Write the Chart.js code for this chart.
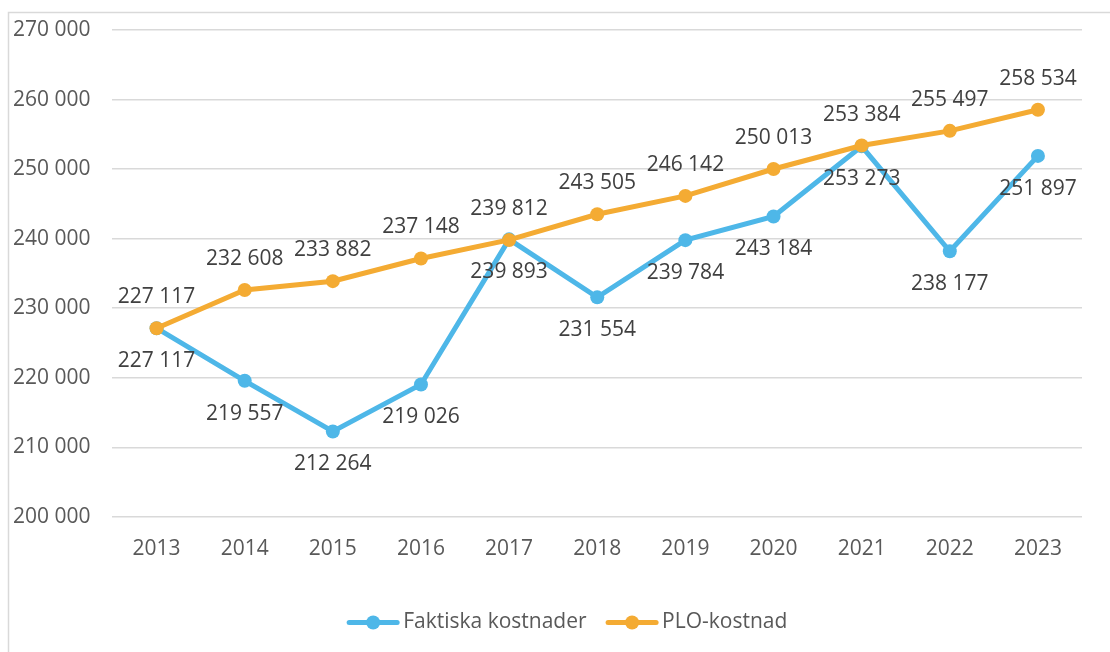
<!DOCTYPE html>
<html>
<head>
<meta charset="utf-8">
<script src="https://cdn.jsdelivr.net/npm/chart.js@4/dist/chart.umd.min.js"></script>
<style>
  body { margin: 0; background: #fff; }
  canvas { display: block; }
</style>
</head>
<body>
<canvas id="chart" width="1110" height="652"></canvas>
<script>
const years = ["2013", "2014", "2015", "2016", "2017", "2018", "2019", "2020", "2021", "2022", "2023"];
const faktiskaKostnader = [227117, 219557, 212264, 219026, 239893, 231554, 239784, 243184, 253273, 238177, 251897];
const ploKostnad = [227117, 232608, 233882, 237148, 239812, 243505, 246142, 250013, 253384, 255497, 258534];
const yTicks = [200000, 210000, 220000, 230000, 240000, 250000, 260000, 270000];

const blue = "#4EB7E8";
const orange = "#F4AB33";
const textColor = "#595959";
const fontFamily = "'Open Sans', 'Noto Sans', sans-serif";
const fontSize = 21;
const legendShift = 20;

function fmt(v) {
  return String(v).replace(/\B(?=(\d{3})+(?!\d))/g, " ");
}

// frame around the whole chart, like the Excel chart area
const framePlugin = {
  id: "frame",
  beforeDraw(chart) {
    const ctx = chart.ctx;
    ctx.save();
    ctx.strokeStyle = "#d9d9d9";
    ctx.lineWidth = 1.5;
    ctx.strokeRect(8.5, 12.5, 1120, 700);
    ctx.restore();
  }
};

// value labels: orange above the point, blue below
const labelPlugin = {
  id: "valueLabels",
  afterDatasetsDraw(chart) {
    const ctx = chart.ctx;
    ctx.save();
    ctx.font = fontSize + "px " + fontFamily;
    ctx.fillStyle = "#404040";
    ctx.textAlign = "center";
    ctx.textBaseline = "middle";
    chart.data.datasets.forEach((ds, i) => {
      const meta = chart.getDatasetMeta(i);
      const dy = ds.labelPos === "above" ? -31 : 33;
      meta.data.forEach((pt, j) => {
        ctx.fillText(fmt(ds.data[j]), pt.x, pt.y + dy);
      });
    });
    ctx.restore();
  }
};

// legend marker: line with a dot, drawn just left of the legend text
const legendMarkerPlugin = {
  id: "legendMarkers",
  beforeDraw(chart) {
    // the Excel legend sits a little right of centre
    const lg = chart.legend;
    if (lg && !lg._shifted) {
      lg.left += legendShift;
      lg.right += legendShift;
      lg._shifted = true;
    }
  },
  afterDraw(chart) {
    const legend = chart.legend;
    if (!legend || !legend.legendHitBoxes) return;
    const ctx = chart.ctx;
    const opts = legend.options.labels;
    const textX0 = opts.boxWidth + opts.font.size / 2;
    ctx.save();
    legend.legendHitBoxes.forEach((box, i) => {
      const color = chart.data.datasets[legend.legendItems[i].datasetIndex].borderColor;
      const tx = box.left + legendShift + textX0;
      const cy = box.top + box.height / 2;
      ctx.strokeStyle = color;
      ctx.fillStyle = color;
      ctx.lineWidth = 5;
      ctx.lineCap = "round";
      ctx.beginPath();
      ctx.moveTo(tx - 54, cy);
      ctx.lineTo(tx - 6, cy);
      ctx.stroke();
      ctx.beginPath();
      ctx.arc(tx - 30, cy, 7, 0, Math.PI * 2);
      ctx.fill();
    });
    ctx.restore();
  }
};

new Chart(document.getElementById("chart"), {
  type: "line",
  data: {
    labels: years,
    datasets: [
      {
        label: "Faktiska kostnader",
        data: faktiskaKostnader,
        borderColor: blue,
        backgroundColor: blue,
        borderWidth: 5,
        pointRadius: 7,
        pointHoverRadius: 7,
        pointBorderWidth: 0,
        labelPos: "below",
        order: 1
      },
      {
        label: "PLO-kostnad",
        data: ploKostnad,
        borderColor: orange,
        backgroundColor: orange,
        borderWidth: 5,
        pointRadius: 7,
        pointHoverRadius: 7,
        pointBorderWidth: 0,
        labelPos: "above",
        order: 0
      }
    ]
  },
  options: {
    responsive: false,
    animation: false,
    layout: { padding: { left: 13, right: 28, top: 30, bottom: 9 } },
    scales: {
      x: {
        offset: true,
        grid: { display: false, drawTicks: false },
        border: { display: false },
        ticks: { color: textColor, padding: 20, font: { family: fontFamily, size: fontSize } },
        afterFit(axis) { axis.height += 10; }
      },
      y: {
        min: 200000,
        max: 270000,
        afterBuildTicks(axis) {
          axis.ticks = yTicks.map(v => ({ value: v }));
        },
        grid: { color: "#d9d9d9", lineWidth: 1.5, drawTicks: false },
        border: { display: false },
        ticks: {
          color: textColor,
          padding: 11,
          crossAlign: "far",
          font: { family: fontFamily, size: fontSize },
          callback: v => fmt(v)
        }
      }
    },
    plugins: {
      legend: {
        position: "bottom",
        labels: {
          boxWidth: 45,
          boxHeight: 5,
          color: textColor,
          padding: 20,
          font: { family: fontFamily, size: fontSize },
          sort: (a, b) => a.datasetIndex - b.datasetIndex,
          generateLabels(chart) {
            const items = Chart.defaults.plugins.legend.labels.generateLabels(chart);
            items.forEach(it => {
              it.fillStyle = "rgba(0,0,0,0)";
              it.strokeStyle = "rgba(0,0,0,0)";
              it.lineWidth = 0;
            });
            return items;
          }
        }
      },
      tooltip: { enabled: false }
    }
  },
  plugins: [framePlugin, labelPlugin, legendMarkerPlugin]
});
</script>
</body>
</html>
